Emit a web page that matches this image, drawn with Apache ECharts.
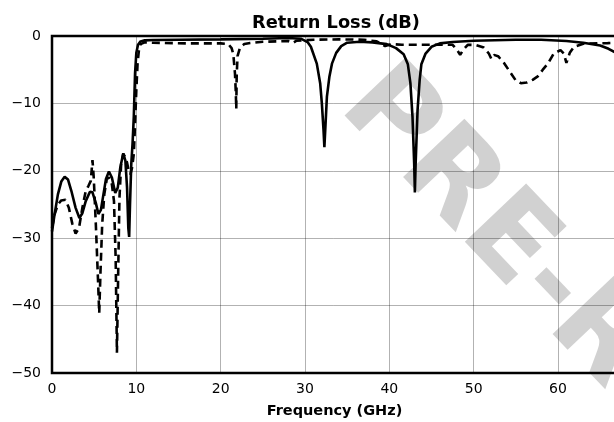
<!DOCTYPE html>
<html>
<head>
<meta charset="utf-8">
<script src="https://cdn.jsdelivr.net/npm/echarts@6/dist/echarts.min.js"></script>
<style>
html,body{margin:0;padding:0;background:#fff;}
#chart{width:614px;height:422px;}
</style>
</head>
<body>
<div id="chart"></div>
<script>
// Solid curve (frequency in GHz, return loss in dB)
const solidFreq = [0,0.3,0.7,1.1,1.5,1.9,2.3,2.8,3.25,3.6,4.0,4.5,4.8,5.2,5.5,5.8,6.1,6.4,6.75,7.1,7.5,7.8,8.1,8.45,8.7,8.9,9.05,9.15,9.25,9.4,9.55,9.7,9.85,10.0,10.2,10.5,11,12,15,20,25,28,29.5,30.3,30.7,31.4,31.8,32.0,32.2,32.3,32.4,32.6,32.9,33.2,33.7,34.3,35,36.5,38,39.7,40.8,41.7,42.2,42.5,42.75,42.95,43.03,43.12,43.35,43.6,43.8,44.3,45,46,47.5,50,55,58,61,63,65,66,67];
const solidDb   = [-29.0,-26.5,-23.5,-21.6,-20.9,-21.3,-23.0,-25.5,-27.0,-26.3,-24.5,-23.1,-23.2,-24.8,-26.4,-25.8,-23.5,-21.2,-20.1,-21.0,-23.3,-22.5,-19.5,-17.4,-18.5,-22.5,-28.5,-29.8,-25,-19,-16,-12,-5.5,-2.5,-1.3,-0.8,-0.65,-0.6,-0.55,-0.5,-0.4,-0.3,-0.4,-0.9,-1.6,-4.1,-7,-10,-14,-16.5,-14,-9,-6,-4.1,-2.5,-1.5,-1.0,-0.85,-0.95,-1.2,-1.8,-2.7,-4.2,-7,-12,-19,-23.2,-19,-11,-6.5,-4.2,-2.6,-1.6,-1.1,-0.9,-0.7,-0.55,-0.55,-0.75,-1.0,-1.4,-1.9,-2.6];

// Dashed curve
const dashFreq = [0,0.3,0.7,1.1,1.6,2.0,2.4,2.8,3.2,3.6,4.0,4.3,4.6,4.8,4.95,5.2,5.45,5.6,5.75,5.95,6.2,6.5,6.8,7.1,7.35,7.55,7.7,7.85,8.0,8.2,8.45,8.7,8.9,9.1,9.3,9.5,9.7,9.85,10.0,10.15,10.3,10.5,11,12,16,20,20.9,21.3,21.5,21.7,21.8,21.85,21.9,22.0,22.3,22.8,23.5,25,28,28.6,29,31,34,37,38.5,39.5,40.2,41.5,47.5,48.0,48.4,48.8,49.3,50.3,51.2,51.8,52.1,52.4,52.9,53.6,54.4,55.0,55.6,56.3,57.0,57.6,58.2,58.8,59.5,60.3,60.7,61.0,61.2,61.4,61.9,63.0,65.9,67];
const dashDb   = [-28.5,-26.5,-25.0,-24.4,-24.3,-25.5,-27.8,-29.3,-28.5,-25.5,-23.0,-22.3,-21.5,-18.4,-21,-28,-36,-41.1,-35,-28,-23.5,-21.2,-21.0,-22.0,-24.5,-33,-47.0,-35,-24,-19,-17.5,-18.0,-18.8,-20.0,-20.5,-19.5,-17.5,-13,-8,-4,-2.2,-1.2,-0.95,-1.0,-1.1,-1.1,-1.2,-1.8,-2.7,-5.6,-8.5,-10.8,-6,-3,-1.7,-1.2,-1.05,-0.85,-0.75,-1.0,-0.7,-0.55,-0.5,-0.55,-0.8,-1.5,-1.2,-1.3,-1.3,-2.0,-2.8,-2.0,-1.3,-1.35,-1.7,-2.6,-3.4,-2.8,-3.0,-4.0,-5.5,-6.6,-7.0,-6.9,-6.5,-6.0,-5.0,-4.1,-2.6,-2.1,-2.6,-4.0,-3.8,-2.5,-1.6,-1.15,-1.05,-1.0];

const xTicks = [0,10,20,30,40,50,60];
const yTicks = [-50,-40,-30,-20,-10,0];

const titleText = 'Return Loss (dB)';
const xName = 'Frequency (GHz)';
const watermark = 'PRE-RELEASE';

const zip = (a, b) => a.map((v, i) => [v, b[i]]);
const minus = v => (v < 0 ? '\u2212' + (-v) : String(v));

const chart = echarts.init(document.getElementById('chart'), null, {renderer: 'canvas'});
chart.setOption({
  animation: false,
  backgroundColor: '#fff',
  title: {
    text: titleText,
    left: 331, top: 9, textAlign: 'center',
    textStyle: {fontFamily: 'DejaVu Sans', fontWeight: 'bold', fontSize: 17.8, color: '#000'}
  },
  grid: {left: 52, top: 36, width: 565, height: 337, outerBoundsMode: 'none', containLabel: false,
    show: true, borderColor: '#000', borderWidth: 2.5, backgroundColor: 'transparent', z: 3},
  graphic: [{
    type: 'text', x: 359, y: 87, rotation: -0.81, z: 1, silent: true,
    style: {text: watermark, x: 0, y: 0, textAlign: 'left', textVerticalAlign: 'middle',
      font: 'bold 116px "DejaVu Sans"', fill: 'rgba(128,128,128,0.36)'}
  }],
  xAxis: {
    type: 'value', min: 0, max: 67, interval: 10, z: 3,
    name: xName, nameLocation: 'middle', nameGap: 31,
    nameTextStyle: {fontFamily: 'DejaVu Sans', fontWeight: 'bold', fontSize: 14.5, color: '#000'},
    axisLine: {show: false}, axisTick: {show: false},
    axisLabel: {fontFamily: 'DejaVu Sans', fontSize: 14, color: '#000', margin: 9,
      formatter: v => (xTicks.includes(v) ? minus(v) : '')},
    splitLine: {show: true, lineStyle: {color: 'rgba(0,0,0,0.3)', width: 1}}
  },
  yAxis: {
    type: 'value', min: -50, max: 0, interval: 10, z: 3,
    axisLine: {show: false}, axisTick: {show: false},
    axisLabel: {fontFamily: 'DejaVu Sans', fontSize: 14, color: '#000', margin: 11,
      formatter: v => (yTicks.includes(v) ? minus(v) : '')},
    splitLine: {show: true, lineStyle: {color: 'rgba(0,0,0,0.3)', width: 1}}
  },
  series: [
    {type: 'line', data: zip(solidFreq, solidDb), showSymbol: false, smooth: false, z: 5,
      lineStyle: {color: '#000', width: 2.6, type: 'solid'}},
    {type: 'line', data: zip(dashFreq, dashDb), showSymbol: false, smooth: false, z: 5,
      lineStyle: {color: '#000', width: 2.6, type: [8, 5]}}
  ]
});
</script>
</body>
</html>
